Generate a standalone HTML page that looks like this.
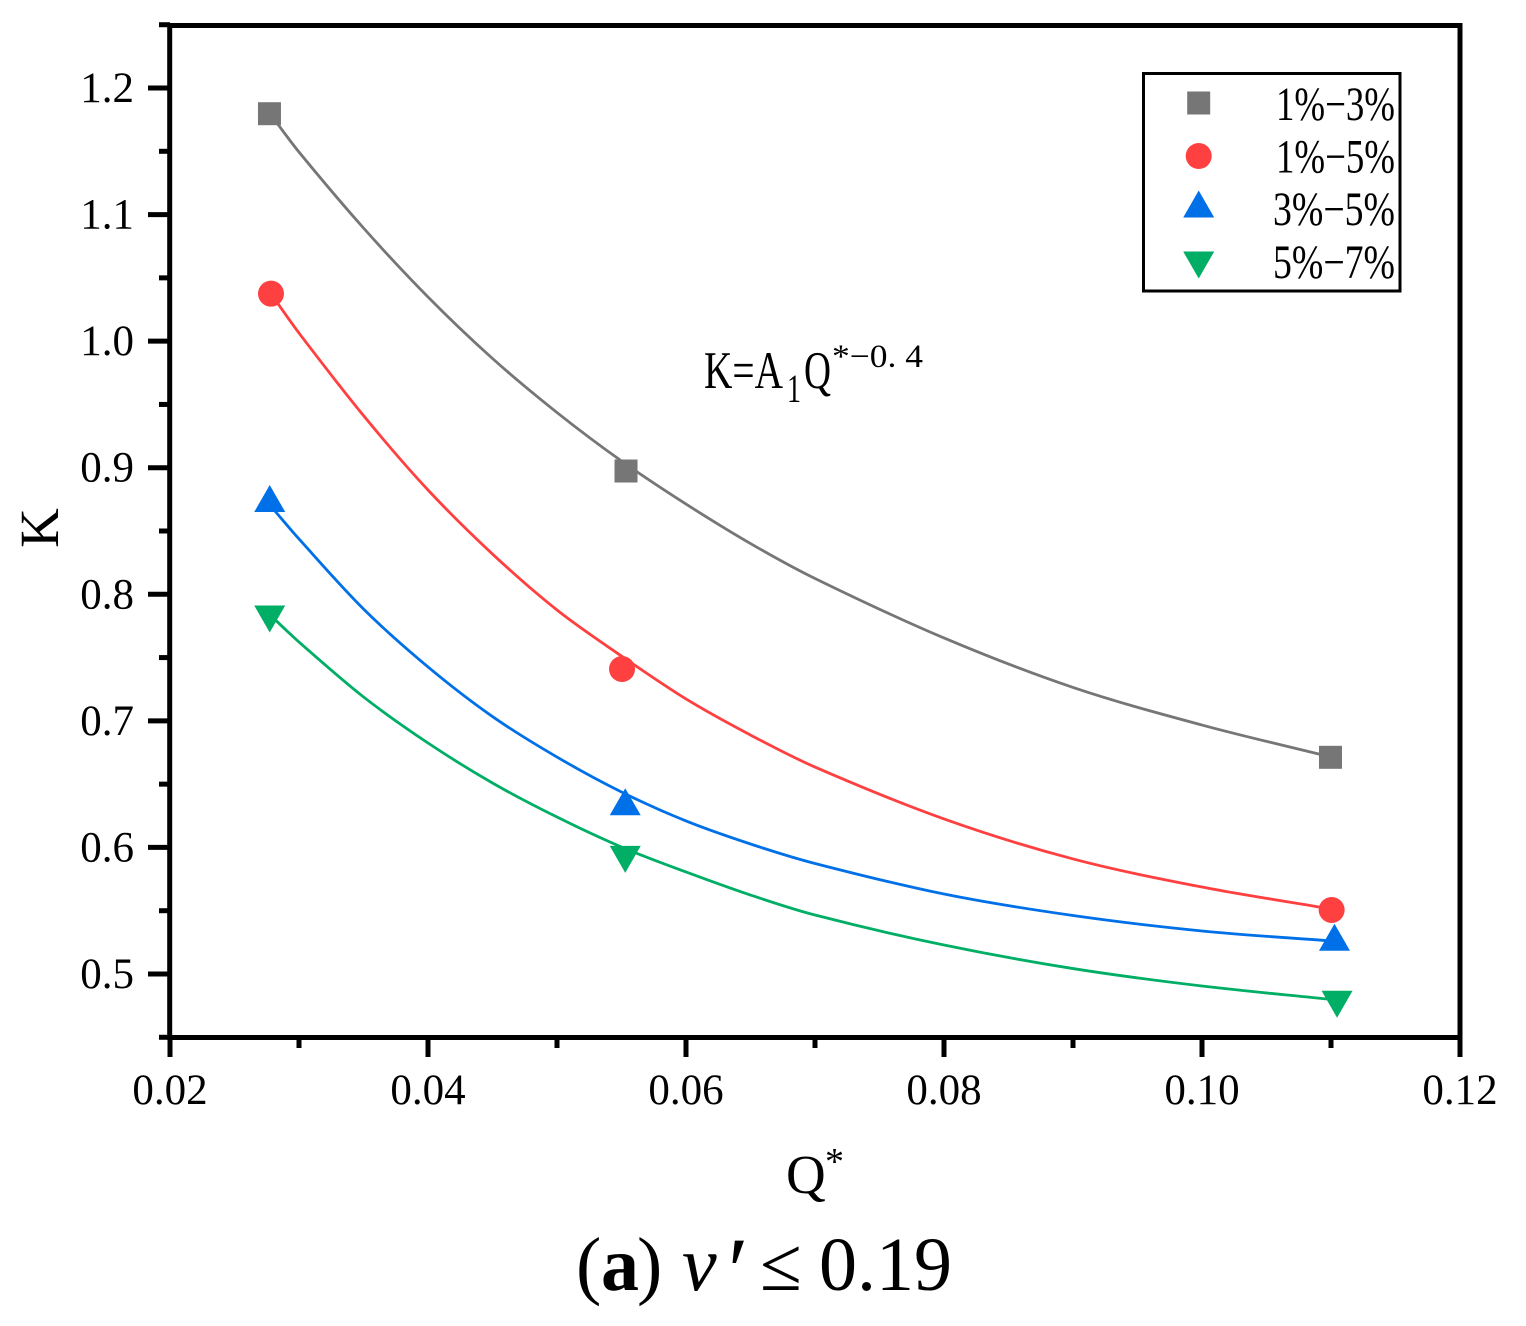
<!DOCTYPE html>
<html lang="en">
<head>
<meta charset="utf-8">
<title>K versus Q* chart</title>
<style>
html,body{margin:0;padding:0;background:#fff;}
svg{display:block;}
text{font-family:"Liberation Serif","Noto Serif CJK SC",serif;fill:#000;}
</style>
</head>
<body>
<svg id="chart" xmlns="http://www.w3.org/2000/svg" width="1526" height="1326" viewBox="0 0 1526 1326">
  <rect x="0" y="0" width="1526" height="1326" fill="#fff"/>
  <g id="curves"></g>
  <g id="ticks"></g>
  <rect x="169.7" y="25.5" width="1290.3" height="1012" fill="none" stroke="#000" stroke-width="5"/>
  <g id="markers"></g>

  <text transform="translate(58,528) rotate(-90)" text-anchor="middle" font-size="55">K</text>
  <text x="786" y="1193" font-size="55">Q</text>
  <text x="825" y="1174" font-size="38">*</text>

  <g>
    <text x="704" y="388" font-size="53" textLength="79" lengthAdjust="spacingAndGlyphs">K=A</text>
    <text x="787" y="402" font-size="40" textLength="14" lengthAdjust="spacingAndGlyphs">1</text>
    <text x="804" y="388" font-size="53" textLength="27" lengthAdjust="spacingAndGlyphs">Q</text>
    <text x="832" y="367" font-size="33" textLength="91" lengthAdjust="spacingAndGlyphs" xml:space="preserve">*−0. 4</text>
  </g>

  <g>
    <rect x="1143.5" y="73.5" width="256.5" height="217.5" fill="#fff" stroke="#000" stroke-width="3"/>
    <g id="legend-items"></g>
  </g>

  <g>
    <text x="576" y="1290" font-size="76">(</text>
    <text x="601" y="1290" font-size="76" font-weight="bold">a</text>
    <text x="637" y="1290" font-size="76">)</text>
    <text x="682" y="1290" font-size="78" font-style="italic">v</text>
    <text x="722" y="1303" font-size="95" font-style="italic">′</text>
    <text x="760" y="1290" font-size="76">≤</text>
    <text x="819" y="1290" font-size="76">0.19</text>
  </g>
</svg>
<script>
// Axis tick values
const xMajorTicks = [0.02, 0.04, 0.06, 0.08, 0.10, 0.12];
const xMinorTicks = [0.03, 0.05, 0.07, 0.09, 0.11];
const yMajorTicks = [0.5, 0.6, 0.7, 0.8, 0.9, 1.0, 1.1, 1.2];
const yMinorTicks = [0.45, 0.55, 0.65, 0.75, 0.85, 0.95, 1.05, 1.15, 1.25];

// Series names and colours
const seriesNames = ['1%−3%', '1%−5%', '3%−5%', '5%−7%'];
const seriesColors = ['#767676', '#ff4040', '#0070e8', '#00ae66'];
const seriesShapes = ['square', 'circle', 'up', 'down'];

// Measured points
const pointsX1 = [0.02771, 0.05535, 0.10996];
const pointsY1 = [1.1797, 0.8974, 0.6712];
const pointsX2 = [0.02783, 0.05504, 0.11005];
const pointsY2 = [1.0375, 0.7410, 0.5506];
const pointsX3 = [0.02773, 0.05529, 0.11027];
const pointsY3 = [0.8757, 0.6361, 0.5290];
const pointsX4 = [0.02773, 0.05529, 0.11047];
const pointsY4 = [0.7805, 0.5906, 0.4761];

// Fit curves at these Q* positions
const curveX = [0.028, 0.03, 0.035, 0.04, 0.045, 0.05, 0.055, 0.06, 0.065, 0.07, 0.08, 0.09, 0.10, 0.11];
const curveY1 = [1.1763, 1.1494, 1.0894, 1.0349, 0.9863, 0.9436, 0.9053, 0.8713, 0.8401, 0.8125, 0.7655, 0.7264, 0.6967, 0.6714];
const curveY2 = [1.0349, 1.0064, 0.9412, 0.8824, 0.8318, 0.7876, 0.7512, 0.7173, 0.6888, 0.6635, 0.6225, 0.5909, 0.5687, 0.5514];
const curveY3 = [0.8674, 0.8437, 0.7884, 0.7426, 0.7034, 0.6714, 0.6438, 0.6209, 0.6027, 0.5873, 0.5632, 0.5462, 0.5340, 0.5261];
const curveY4 = [0.7813, 0.7623, 0.7189, 0.6825, 0.6509, 0.6240, 0.6003, 0.5806, 0.5624, 0.5466, 0.5229, 0.5043, 0.4905, 0.4799];

const SVG_NS = 'http://www.w3.org/2000/svg';
const xScale = v => 170 + (v - 0.02) * 12900;
const yScale = v => 974 - (v - 0.5) * 1265.7;

function make(tag, attrs, parent) {
  const el = document.createElementNS(SVG_NS, tag);
  for (const k in attrs) el.setAttribute(k, attrs[k]);
  parent.appendChild(el);
  return el;
}

function smoothPath(xs, ys) {
  const p = xs.map((x, i) => [xScale(x), yScale(ys[i])]);
  const n = p.length;
  const slope = i => {
    const a = p[Math.max(i - 1, 0)], b = p[Math.min(i + 1, n - 1)];
    return (b[1] - a[1]) / (b[0] - a[0]);
  };
  let d = 'M' + p[0][0].toFixed(2) + ' ' + p[0][1].toFixed(2);
  for (let i = 0; i < n - 1; i++) {
    const h = (p[i + 1][0] - p[i][0]) / 3;
    d += 'C' + (p[i][0] + h).toFixed(2) + ' ' + (p[i][1] + slope(i) * h).toFixed(2) + ' ' +
         (p[i + 1][0] - h).toFixed(2) + ' ' + (p[i + 1][1] - slope(i + 1) * h).toFixed(2) + ' ' +
         p[i + 1][0].toFixed(2) + ' ' + p[i + 1][1].toFixed(2);
  }
  return d;
}

function drawShape(shape, cx, cy, color, parent) {
  if (shape === 'square') {
    return make('rect', {x: cx - 11.5, y: cy - 11.5, width: 23, height: 23, fill: color}, parent);
  }
  if (shape === 'circle') {
    return make('circle', {cx: cx, cy: cy, r: 13, fill: color}, parent);
  }
  if (shape === 'up') {
    return make('polygon', {points: (cx - 15.5) + ',' + (cy + 13.5) + ' ' + (cx + 15.5) + ',' + (cy + 13.5) + ' ' + cx + ',' + (cy - 13.5), fill: color}, parent);
  }
  return make('polygon', {points: (cx - 15.5) + ',' + (cy - 13.5) + ' ' + (cx + 15.5) + ',' + (cy - 13.5) + ' ' + cx + ',' + (cy + 13.5), fill: color}, parent);
}

const ticksG = document.getElementById('ticks');
const curvesG = document.getElementById('curves');
const markersG = document.getElementById('markers');
const legendG = document.getElementById('legend-items');

xMajorTicks.forEach(v => {
  const t = make('line', {x1: xScale(v), x2: xScale(v), y1: 1037, y2: 1057, stroke: '#000', 'stroke-width': 5}, ticksG);
  
  
  const l = make('text', {x: xScale(v), y: 1104, 'text-anchor': 'middle', 'font-size': 43}, ticksG);
  
  
  l.textContent = v.toFixed(2);
});
xMinorTicks.forEach(v => {
  const t = make('line', {x1: xScale(v), x2: xScale(v), y1: 1037, y2: 1048, stroke: '#000', 'stroke-width': 5}, ticksG);
  
  
});
yMajorTicks.forEach(v => {
  const t = make('line', {x1: 148, x2: 170, y1: yScale(v), y2: yScale(v), stroke: '#000', 'stroke-width': 5}, ticksG);
  
  
  const l = make('text', {x: 134, y: yScale(v) + 14, 'text-anchor': 'end', 'font-size': 43}, ticksG);
  
  
  l.textContent = v.toFixed(1);
});
yMinorTicks.forEach(v => {
  const t = make('line', {x1: 159, x2: 170, y1: yScale(v), y2: yScale(v), stroke: '#000', 'stroke-width': 5}, ticksG);
  
  
});

[curveY1, curveY2, curveY3, curveY4].forEach((ys, s) => {
  const c = make('path', {d: smoothPath(curveX, ys), fill: 'none', stroke: seriesColors[s], 'stroke-width': 2.8}, curvesG);
  
  
});

const allX = [pointsX1, pointsX2, pointsX3, pointsX4];
const allY = [pointsY1, pointsY2, pointsY3, pointsY4];
allX.forEach((xs, s) => {
  xs.forEach((x, i) => {
    const m = drawShape(seriesShapes[s], xScale(x), yScale(allY[s][i]), seriesColors[s], markersG);
    
    
  });
});

const legendMarkerY = [103, 156, 204, 265];
const legendTextY = [120, 172.7, 225, 278];
const legendTextX = [1276, 1276, 1273, 1273];
seriesNames.forEach((name, s) => {
  const m = drawShape(seriesShapes[s], 1198.7, legendMarkerY[s], seriesColors[s], legendG);
  
  
  const t = make('text', {x: legendTextX[s], y: legendTextY[s], 'font-size': 48, textLength: 1395 - legendTextX[s], lengthAdjust: 'spacingAndGlyphs'}, legendG);
  
  
  t.textContent = name;
});
</script>
</body>
</html>
